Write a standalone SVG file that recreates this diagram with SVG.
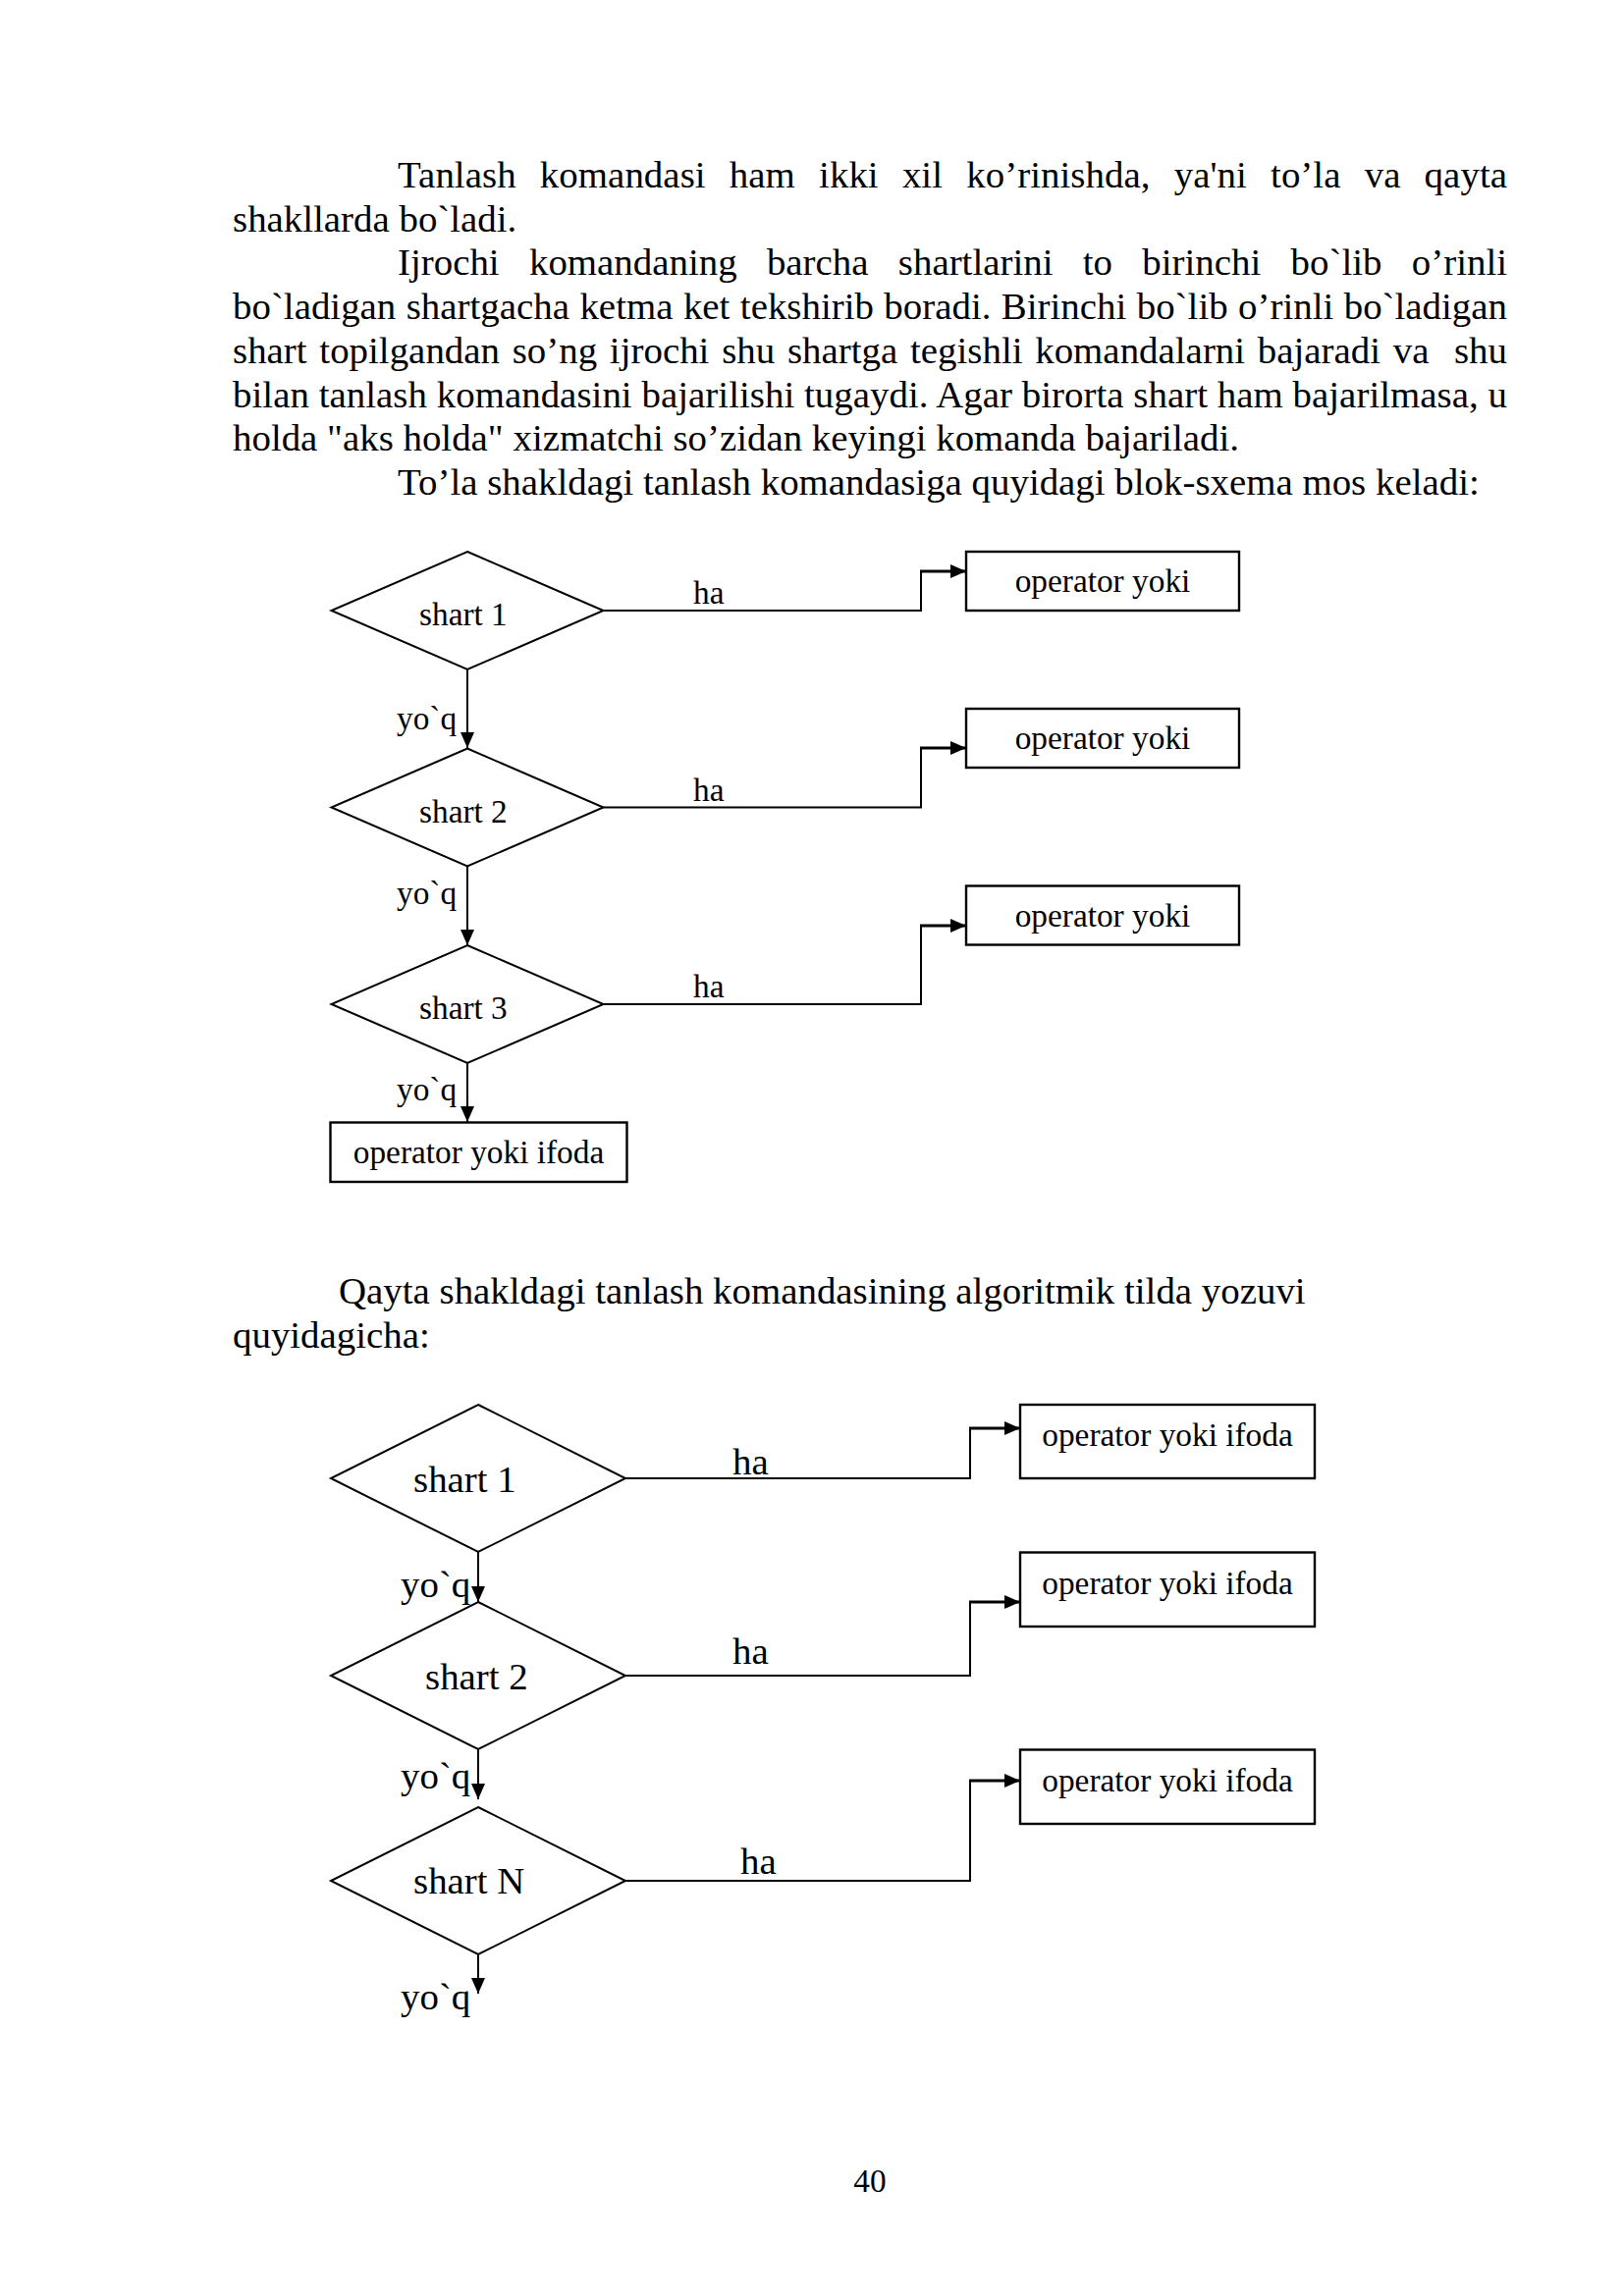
<svg xmlns="http://www.w3.org/2000/svg" width="1654" height="2339" viewBox="0 0 1654 2339">
  <style>
    text { font-family: "Liberation Serif", "Times New Roman", serif; fill: #000; }
    .body { font-size: 38.89px; }
    .t12 { font-size: 33.33px; }
    .t14 { font-size: 38.89px; }
    .mid { text-anchor: middle; }
    .shape { fill: #fff; stroke: #000; stroke-width: 2; }
    .box { fill: #fff; stroke: #000; stroke-width: 2.4; }
    .link { fill: none; stroke: #000; stroke-width: 2; }
    .stub { fill: none; stroke: #000; stroke-width: 3; }
  </style>
  <defs>
    <marker id="arrow" markerUnits="userSpaceOnUse" markerWidth="17" markerHeight="14" refX="16" refY="7" orient="auto">
      <path d="M0,0 L16,7 L0,14 Z" fill="#000"/>
    </marker>
  </defs>

  <rect x="0" y="0" width="1654" height="2339" fill="#fff"/>

  <!-- Body text, paragraph 1 -->
  <g id="para-1">
    <text class="body" x="405" y="191" textLength="1130" lengthAdjust="spacing" style="word-spacing:14.4px">Tanlash komandasi ham ikki xil ko’rinishda, ya'ni to’la va qayta</text>
    <text class="body" x="237" y="235.7">shakllarda bo`ladi.</text>
    <text class="body" x="405" y="280.4" textLength="1130" lengthAdjust="spacing" style="word-spacing:20.6px">Ijrochi komandaning barcha shartlarini to birinchi bo`lib o’rinli</text>
    <text class="body" x="237" y="325.1" textLength="1298" lengthAdjust="spacing" style="word-spacing:0.7px">bo`ladigan shartgacha ketma ket tekshirib boradi. Birinchi bo`lib o’rinli bo`ladigan</text>
    <text class="body" x="237" y="369.8" textLength="1298" lengthAdjust="spacing" style="word-spacing:3px;white-space:pre">shart topilgandan so’ng ijrochi shu shartga tegishli komandalarni bajaradi va  shu</text>
    <text class="body" x="237" y="414.5" textLength="1298" lengthAdjust="spacing">bilan tanlash komandasini bajarilishi tugaydi. Agar birorta shart ham bajarilmasa, u</text>
    <text class="body" x="237" y="459.2">holda "aks holda" xizmatchi so’zidan keyingi komanda bajariladi.</text>
    <text class="body" x="405" y="503.9">To’la shakldagi tanlash komandasiga quyidagi blok-sxema mos keladi:</text>
  </g>

  <!-- First flowchart: full form -->
  <g id="flow-1-connectors">
    <polyline class="link" points="614.5,622 938,622 938,582"/>
    <line class="stub" x1="937" y1="582" x2="984" y2="582" marker-end="url(#arrow)"/>
    <polyline class="link" points="614.5,822.5 938,822.5 938,762"/>
    <line class="stub" x1="937" y1="762" x2="984" y2="762" marker-end="url(#arrow)"/>
    <polyline class="link" points="614.5,1023 938,1023 938,943"/>
    <line class="stub" x1="937" y1="943" x2="984" y2="943" marker-end="url(#arrow)"/>
    <line class="link" x1="476" y1="682" x2="476" y2="762" marker-end="url(#arrow)"/>
    <line class="link" x1="476" y1="882.5" x2="476" y2="963" marker-end="url(#arrow)"/>
    <line class="link" x1="476" y1="1083" x2="476" y2="1143" marker-end="url(#arrow)"/>
    <text class="t12" x="706" y="615">ha</text>
    <text class="t12" x="706" y="815.5">ha</text>
    <text class="t12" x="706" y="1016">ha</text>
    <text class="t12" x="404" y="742.5">yo`q</text>
    <text class="t12" x="404" y="920.5">yo`q</text>
    <text class="t12" x="404" y="1120.5">yo`q</text>
  </g>
  <g id="f1-shart-1">
    <polygon class="shape" points="476,562 614.5,622 476,682 337.5,622"/>
    <text class="t12" x="427" y="637">shart 1</text>
  </g>
  <g id="f1-shart-2">
    <polygon class="shape" points="476,762.5 614.5,822.5 476,882.5 337.5,822.5"/>
    <text class="t12" x="427" y="837.5">shart 2</text>
  </g>
  <g id="f1-shart-3">
    <polygon class="shape" points="476,963 614.5,1023 476,1083 337.5,1023"/>
    <text class="t12" x="427" y="1038">shart 3</text>
  </g>
  <g id="f1-op-1">
    <rect class="box" x="984" y="562" width="278" height="60"/>
    <text class="t12 mid" x="1123" y="603.3">operator yoki</text>
  </g>
  <g id="f1-op-2">
    <rect class="box" x="984" y="722" width="278" height="60"/>
    <text class="t12 mid" x="1123" y="763.3">operator yoki</text>
  </g>
  <g id="f1-op-3">
    <rect class="box" x="984" y="902.5" width="278" height="60"/>
    <text class="t12 mid" x="1123" y="943.8">operator yoki</text>
  </g>
  <g id="f1-else">
    <rect class="box" x="336.5" y="1143.5" width="302" height="60.5"/>
    <text class="t12 mid" x="487.5" y="1185">operator yoki ifoda</text>
  </g>

  <!-- Body text, paragraph 2 -->
  <g id="para-2">
    <text class="body" x="345" y="1328.3">Qayta shakldagi tanlash komandasining algoritmik tilda yozuvi</text>
    <text class="body" x="237" y="1373.2">quyidagicha:</text>
  </g>

  <!-- Second flowchart: short form -->
  <g id="flow-2-connectors">
    <polyline class="link" points="637,1506 988,1506 988,1455"/>
    <line class="stub" x1="987" y1="1455" x2="1039" y2="1455" marker-end="url(#arrow)"/>
    <polyline class="link" points="637,1707 988,1707 988,1632"/>
    <line class="stub" x1="987" y1="1632" x2="1039" y2="1632" marker-end="url(#arrow)"/>
    <polyline class="link" points="637,1916 988,1916 988,1814"/>
    <line class="stub" x1="987" y1="1814" x2="1039" y2="1814" marker-end="url(#arrow)"/>
    <line class="link" x1="487" y1="1581" x2="487" y2="1632" marker-end="url(#arrow)"/>
    <line class="link" x1="487" y1="1782" x2="487" y2="1833" marker-end="url(#arrow)"/>
    <line class="link" x1="487" y1="1991" x2="487" y2="2031" marker-end="url(#arrow)"/>
    <text class="t14" x="746" y="1502">ha</text>
    <text class="t14" x="746" y="1695">ha</text>
    <text class="t14" x="754" y="1909">ha</text>
    <text class="t14" x="408" y="1627">yo`q</text>
    <text class="t14" x="408" y="1822">yo`q</text>
    <text class="t14" x="408" y="2046.5">yo`q</text>
  </g>
  <g id="f2-shart-1">
    <polygon class="shape" points="487,1431 637,1506 487,1581 337,1506"/>
    <text class="t14" x="421" y="1520">shart 1</text>
  </g>
  <g id="f2-shart-2">
    <polygon class="shape" points="487,1632 637,1707 487,1782 337,1707"/>
    <text class="t14" x="433" y="1720.7">shart 2</text>
  </g>
  <g id="f2-shart-n">
    <polygon class="shape" points="487,1841 637,1916 487,1991 337,1916"/>
    <text class="t14" x="421" y="1929">shart N</text>
  </g>
  <g id="f2-op-1">
    <rect class="box" x="1039" y="1431" width="300" height="75"/>
    <text class="t12 mid" x="1189" y="1473">operator yoki ifoda</text>
  </g>
  <g id="f2-op-2">
    <rect class="box" x="1039" y="1581.5" width="300" height="75.5"/>
    <text class="t12 mid" x="1189" y="1623.5">operator yoki ifoda</text>
  </g>
  <g id="f2-op-3">
    <rect class="box" x="1039" y="1782.5" width="300" height="75.5"/>
    <text class="t12 mid" x="1189" y="1825">operator yoki ifoda</text>
  </g>

  <!-- Page number -->
  <text class="t12 mid" x="886" y="2233">40</text>
</svg>
